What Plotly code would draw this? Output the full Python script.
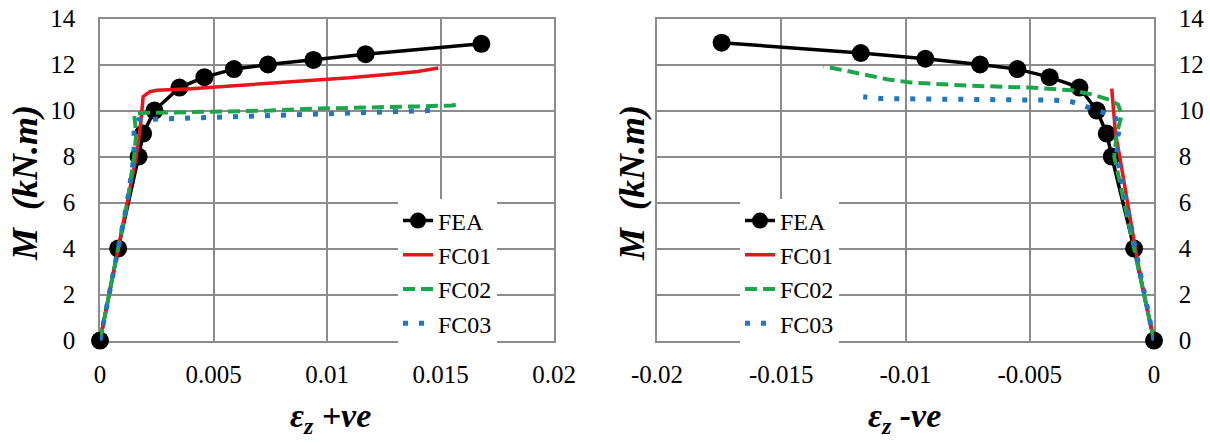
import plotly.graph_objects as go

# ---------------- data ----------------
series_names = ["FEA", "FC01", "FC02", "FC03"]

# positive strain (left panel)
fea_pos_x = [0, 0.0008, 0.0017, 0.0019, 0.0024, 0.0035, 0.0046, 0.0059, 0.0074, 0.0094, 0.0117, 0.0168]
fea_pos_y = [0, 4.0, 8.0, 9.0, 10.0, 11.0, 11.45, 11.8, 12.0, 12.2, 12.45, 12.9]

fc01_pos_x = [0, 0.0004, 0.0008, 0.0012, 0.0016, 0.0018, 0.00185, 0.0019, 0.0022, 0.0025, 0.004, 0.006, 0.008, 0.0093, 0.011, 0.013, 0.014, 0.0149]
fc01_pos_y = [0, 2.0, 4.0, 6.0, 8.0, 9.5, 10.2, 10.6, 10.82, 10.88, 10.95, 11.08, 11.2, 11.3, 11.42, 11.6, 11.7, 11.85]

fc02_pos_x = [0, 0.0004, 0.0008, 0.0012, 0.0015, 0.0016, 0.0015, 0.002, 0.0025, 0.005, 0.0075, 0.0093, 0.012, 0.014, 0.0155, 0.0159]
fc02_pos_y = [0, 2.0, 4.0, 6.0, 8.0, 9.0, 9.85, 9.9, 9.9, 9.95, 10.0, 10.08, 10.12, 10.18, 10.22, 10.3]

fc03_pos_x = [0, 0.0004, 0.0008, 0.0012, 0.0015, 0.0015, 0.0015, 0.0017, 0.0024, 0.0035, 0.005, 0.0075, 0.01, 0.0125, 0.0146]
fc03_pos_y = [0, 2.0, 4.0, 6.0, 8.0, 8.8, 9.33, 9.6, 9.62, 9.67, 9.72, 9.78, 9.83, 9.9, 10.0]

# negative strain (right panel)
fea_neg_x = [0, -0.0008, -0.0017, -0.0019, -0.0023, -0.0030, -0.0042, -0.0055, -0.0070, -0.0092, -0.0118, -0.0174]
fea_neg_y = [0, 4.0, 8.0, 9.0, 10.0, 11.0, 11.45, 11.8, 12.0, 12.25, 12.5, 12.95]

fc01_neg_x = [0, -0.0004, -0.00075, -0.00105, -0.00138, -0.00155, -0.0017]
fc01_neg_y = [0, 2.0, 4.0, 6.0, 8.0, 9.0, 10.95]

fc02_neg_x = [0, -0.0004, -0.0008, -0.0012, -0.0016, -0.0015, -0.0013, -0.00137, -0.00144, -0.0018, -0.0025, -0.0033, -0.005, -0.0075, -0.0098, -0.0107, -0.0117, -0.0133]
fc02_neg_y = [0, 2.0, 4.0, 6.0, 8.0, 9.0, 9.8, 10.03, 10.25, 10.47, 10.7, 10.88, 11.0, 11.08, 11.22, 11.35, 11.56, 11.93]

fc03_neg_x = [0, -0.0004, -0.00075, -0.0011, -0.0015, -0.00145, -0.00137, -0.0016, -0.0022, -0.0028, -0.0033, -0.004, -0.006, -0.008, -0.010, -0.011, -0.0117]
fc03_neg_y = [0, 2.0, 4.0, 6.0, 8.0, 8.9, 9.3, 9.8, 9.96, 10.2, 10.38, 10.45, 10.47, 10.47, 10.47, 10.52, 10.6]

x_pos_ticks = [0, 0.005, 0.01, 0.015, 0.02]
x_pos_labels = ["0", "0.005", "0.01", "0.015", "0.02"]
x_neg_ticks = [-0.02, -0.015, -0.01, -0.005, 0]
x_neg_labels = ["-0.02", "-0.015", "-0.01", "-0.005", "0"]
y_ticks = [0, 2, 4, 6, 8, 10, 12, 14]
y_labels = ["0", "2", "4", "6", "8", "10", "12", "14"]

x_title_pos = "ε<sub>z</sub> +ve"
x_title_neg = "ε<sub>z</sub> -ve"
y_title = "M\u00a0\u00a0(kN.m)"

# ---------------- styling ----------------
W, H = 1210, 443
FONT = "Liberation Serif"
GRID = "#8c8c8c"
styles = [
    dict(mode="lines+markers", line=dict(color="black", width=3.5), marker=dict(size=18, color="black"),
         cliponaxis=False),
    dict(mode="lines", line=dict(color="#e8161b", width=3.5)),
    dict(mode="lines", line=dict(color="#1ca64c", width=4, dash="12px,6px")),
    dict(mode="lines", line=dict(color="#1f77c4", width=5, dash="5px,11px")),
]

fig = go.Figure()
pos_data = [(fea_pos_x, fea_pos_y), (fc01_pos_x, fc01_pos_y), (fc02_pos_x, fc02_pos_y), (fc03_pos_x, fc03_pos_y)]
neg_data = [(fea_neg_x, fea_neg_y), (fc01_neg_x, fc01_neg_y), (fc02_neg_x, fc02_neg_y), (fc03_neg_x, fc03_neg_y)]

for name, (xs, ys), st in zip(series_names, pos_data, styles):
    fig.add_trace(go.Scatter(x=xs, y=ys, name=name, xaxis="x", yaxis="y", legend="legend", **st))
for name, (xs, ys), st in zip(series_names, neg_data, styles):
    fig.add_trace(go.Scatter(x=xs, y=ys, name=name, xaxis="x2", yaxis="y2", legend="legend2", **st))

ydom = [1 - 340.6 / H, 1 - 18.5 / H]
tick_font = dict(family=FONT, size=25, color="black")
axis_common = dict(showgrid=True, gridcolor=GRID, gridwidth=1.5, showline=True, linecolor=GRID,
                   linewidth=1.5, mirror=True, ticks="", zeroline=False, automargin=False, layer="below traces")
title_font = dict(family=FONT, size=34, color="black", weight="bold", style="italic")
ytitle_font = dict(family=FONT, size=36, color="black", weight="bold", style="italic")
legend_font = dict(family=FONT, size=24, color="black")

fig.update_layout(
    template="none",
    width=W, height=H, margin=dict(l=0, r=0, t=0, b=0, pad=0, autoexpand=False),
    paper_bgcolor="white", plot_bgcolor="white",
    font=dict(family=FONT, size=25, color="black"),
    xaxis=dict(domain=[100 / W, 554 / W], range=[0, 0.02], tickvals=x_pos_ticks, ticktext=x_pos_labels,
               anchor="y", ticklabelstandoff=11, tickfont=tick_font, **axis_common),
    yaxis=dict(domain=ydom, range=[0, 14], tickvals=y_ticks, ticktext=y_labels, anchor="x",
               ticklabelstandoff=18, tickfont=tick_font, **axis_common),
    xaxis2=dict(domain=[657 / W, 1154 / W], range=[-0.02, 0], tickvals=x_neg_ticks, ticktext=x_neg_labels,
                anchor="y2", ticklabelstandoff=11, tickfont=tick_font, **axis_common),
    yaxis2=dict(domain=ydom, range=[0, 14], tickvals=y_ticks, ticktext=y_labels, anchor="x2", side="right",
                ticklabelstandoff=18, tickfont=tick_font, **axis_common),
    legend=dict(x=398 / W, y=1 - 272 / H, xanchor="left", yanchor="middle", bgcolor="white",
                borderwidth=0, font=legend_font),
    legend2=dict(x=740 / W, y=1 - 272 / H, xanchor="left", yanchor="middle", bgcolor="white",
                 borderwidth=0, font=legend_font),
    annotations=[
        dict(text=x_title_pos, x=330 / W, y=1 - 418 / H, xref="paper", yref="paper", showarrow=False,
             xanchor="center", yanchor="middle", font=title_font),
        dict(text=x_title_neg, x=905 / W, y=1 - 418 / H, xref="paper", yref="paper", showarrow=False,
             xanchor="center", yanchor="middle", font=title_font),
        dict(text=y_title, x=25 / W, y=1 - 183 / H, xref="paper", yref="paper", showarrow=False, textangle=-90,
             xanchor="center", yanchor="middle", font=ytitle_font),
        dict(text=y_title, x=632 / W, y=1 - 183 / H, xref="paper", yref="paper", showarrow=False, textangle=-90,
             xanchor="center", yanchor="middle", font=ytitle_font),
    ],
)

fig.write_html("out.html")
